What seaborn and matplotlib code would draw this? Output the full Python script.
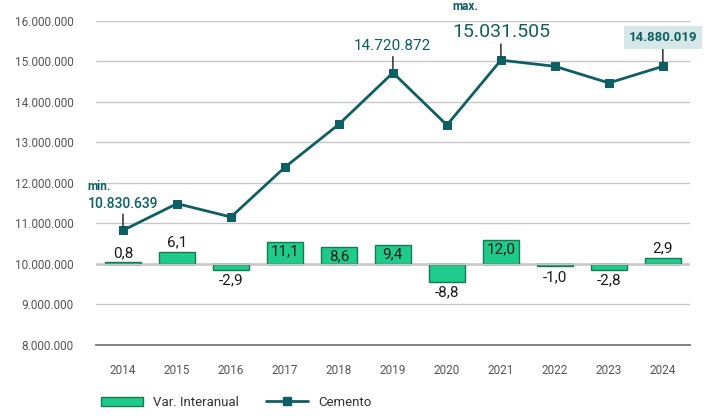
import matplotlib
matplotlib.use("Agg")
import matplotlib.pyplot as plt
from matplotlib.lines import Line2D
from matplotlib.patches import Patch
import matplotlib.ticker as mticker
import seaborn as sns
import pandas as pd

# Datos
years = ["2014", "2015", "2016", "2017", "2018", "2019",
         "2020", "2021", "2022", "2023", "2024"]
cemento = [10830639, 11490000, 11160000, 12390000, 13450000, 14720872,
           13430000, 15031505, 14880000, 14470000, 14880019]
var_interanual = [0.8, 6.1, -2.9, 11.1, 8.6, 9.4, -8.8, 12.0, -1.0, -2.8, 2.9]

LINE_COLOR = "#0e5f63"
BAR_COLOR = "#1fcb8b"
BAR_EDGE = "#137a55"
TICK_COLOR = "#555555"

sns.set_style("white")
plt.rcParams["font.family"] = ["Roboto", "DejaVu Sans"]

df = pd.DataFrame({"year": years, "cemento": cemento, "var": var_interanual})

fig = plt.figure(figsize=(7.09, 4.19), dpi=100)
ax = fig.add_axes([0.1354, 0.1766, 0.8376, 0.7734])
ax2 = ax.twinx()

# barras (eje secundario, oculto)
sns.barplot(data=df, x="year", y="var", ax=ax2, color=BAR_COLOR,
            edgecolor=BAR_EDGE, linewidth=1, width=0.68, saturation=1)
ax2.set_ylim(-40.5, 121.5)
ax2.axhline(0, color="#2a2a2a", lw=1, zorder=1)
ax2.set_yticks([])
ax2.set_ylabel("")
for i, v in enumerate(var_interanual):
    txt = f"{v:.1f}".replace(".", ",")
    if v > 7:
        ax2.text(i, v - 1.2, txt, ha="center", va="top", fontsize=11, color="#1a1a1a")
    elif v >= 0:
        ax2.text(i, v + 1.2, txt, ha="center", va="bottom", fontsize=11, color="#1a1a1a")
    else:
        ax2.text(i, v - 2, txt, ha="center", va="top", fontsize=11, color="#1a1a1a")

# linea cemento
ax.set_zorder(ax2.get_zorder() + 1)
ax.patch.set_visible(False)
sns.lineplot(data=df, x="year", y="cemento", ax=ax, color=LINE_COLOR, lw=2,
             marker="s", markersize=5.5, markeredgecolor=LINE_COLOR, sort=False)
ax.set_ylim(8000000, 16000000)
ax.set_xlim(-0.5, len(years) - 0.5)
ax.yaxis.set_major_locator(mticker.MultipleLocator(1000000))
ax.yaxis.set_major_formatter(mticker.FuncFormatter(lambda v, p: f"{int(v):,}".replace(",", ".")))
ax.grid(axis="y", color="#c8c8c8", lw=1)
ax.set_axisbelow(True)
for s in ["top", "right", "left"]:
    ax.spines[s].set_visible(False)
    ax2.spines[s].set_visible(False)
ax2.spines["bottom"].set_visible(False)
ax.spines["bottom"].set_color("#777777")
ax.spines["bottom"].set_linewidth(1.3)
ax.tick_params(axis="y", length=0, pad=16, labelsize=8.5, labelcolor=TICK_COLOR)
ax.tick_params(axis="x", length=0, pad=14, labelsize=8.5, labelcolor=TICK_COLOR)
ax.set_xlabel("")
ax.set_ylabel("")

# anotaciones
arrow = dict(arrowstyle="-", color="#1a1a1a", lw=1, shrinkA=0, shrinkB=3)
ax.annotate("10.830.639", xy=(0, cemento[0]), xytext=(0, 14), textcoords="offset points",
            ha="center", va="bottom", fontsize=10, fontweight="medium", color=LINE_COLOR,
            arrowprops=arrow)
ax.annotate("min.", xy=(0, cemento[0]), xytext=(-26, 27), textcoords="offset points",
            ha="left", va="bottom", fontsize=8.5, fontweight="bold", color=LINE_COLOR)
ax.annotate("14.720.872", xy=(5, cemento[5]), xytext=(0, 14), textcoords="offset points",
            ha="center", va="bottom", fontsize=11, color=LINE_COLOR, arrowprops=arrow)
ax.annotate("15.031.505", xy=(7, cemento[7]), xytext=(0, 14), textcoords="offset points",
            ha="center", va="bottom", fontsize=14, color=LINE_COLOR, arrowprops=arrow)
ax.annotate("max.", xy=(7, cemento[7]), xytext=(-35, 34), textcoords="offset points",
            ha="left", va="bottom", fontsize=8.5, fontweight="bold", color=LINE_COLOR)
ax.annotate("14.880.019", xy=(10, cemento[10]), xytext=(0, 16), textcoords="offset points",
            ha="center", va="bottom", fontsize=9.5, fontweight="bold", color=LINE_COLOR,
            bbox=dict(boxstyle="square,pad=0.35", fc="#d6e7e7", ec="none"),
            arrowprops=arrow)

# leyenda
handles = [Patch(facecolor=BAR_COLOR, edgecolor=BAR_EDGE, label="Var. Interanual"),
           Line2D([0], [0], color=LINE_COLOR, lw=2, marker="s", markersize=5.5, label="Cemento")]
fig.legend(handles=handles, loc="center left", bbox_to_anchor=(0.125, 0.04), ncol=2,
           frameon=False, fontsize=9.5, handlelength=3.2, columnspacing=2.0,
           labelcolor="#333333")

fig.savefig("out.png", dpi=100)
